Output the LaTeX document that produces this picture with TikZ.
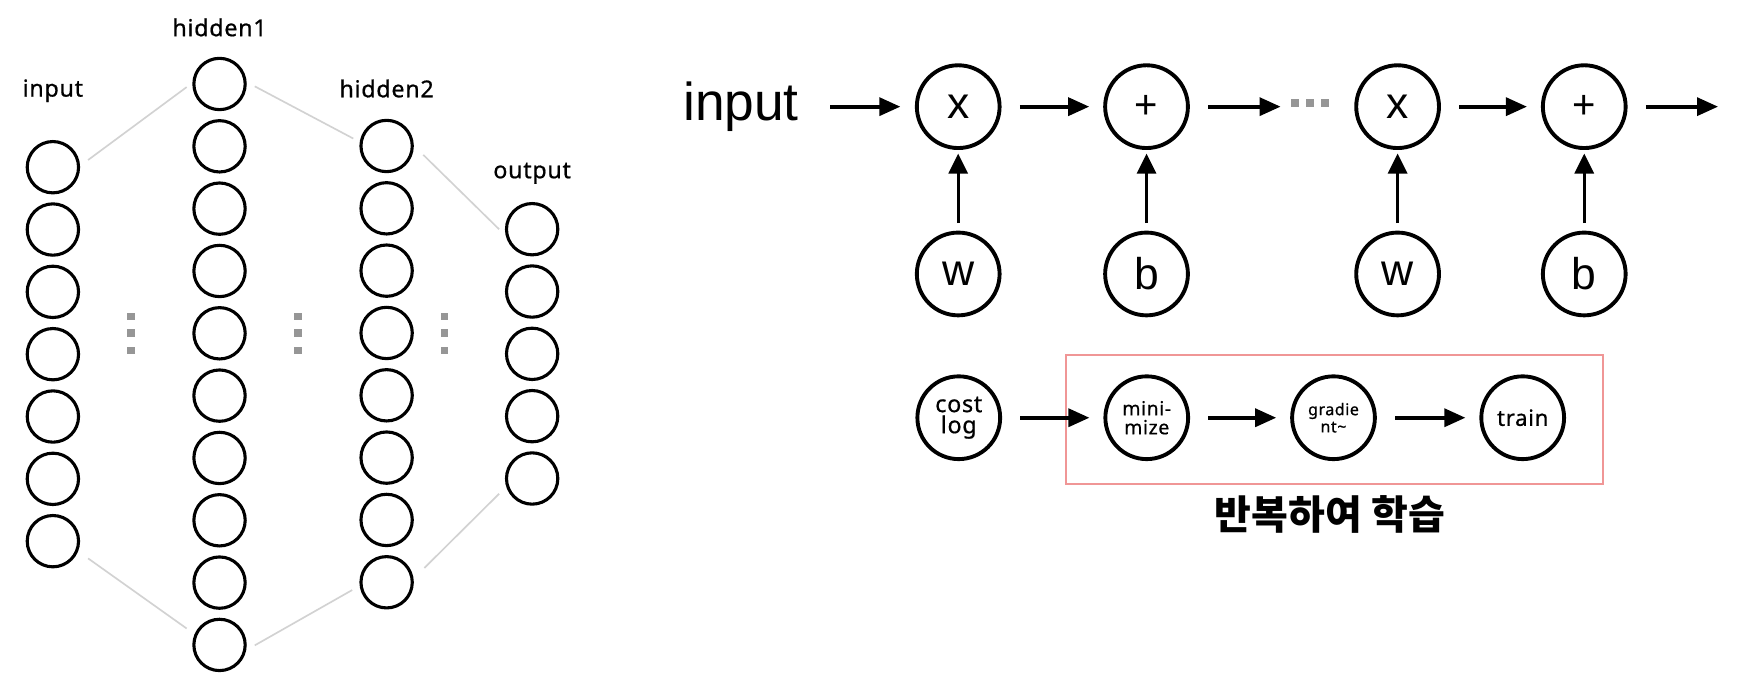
\documentclass[tikz,border=0pt]{standalone}
\usepackage{fontspec}
\setmainfont{Noto Sans}[LetterSpace=3,FakeBold=0.7]
\newfontfamily\arialf{Liberation Sans}
\newfontfamily\krf{Noto Sans CJK KR}
\usetikzlibrary{arrows.meta,calc}
\definecolor{linkgray}{RGB}{210,210,210}
\definecolor{dotgray}{RGB}{150,150,150}
\definecolor{boxpink}{RGB}{240,150,150}
\begin{document}
\begin{tikzpicture}[x=1pt,y=-1pt,
  neuron/.style={circle,draw,line width=2.8pt,minimum size=46.2pt,inner sep=0pt},
  opnode/.style={circle,draw,line width=3.5pt,minimum size=74.5pt,inner sep=0pt,align=center},
  layerlabel/.style={font=\fontsize{21}{25}\selectfont,inner sep=0pt},
  link/.style={draw=linkgray,line width=1.5pt},
  vdot/.style={rectangle,fill=dotgray,minimum size=7pt,inner sep=0pt},
  hdot/.style={rectangle,fill=dotgray,minimum width=7.5pt,minimum height=7pt,inner sep=0pt},
  flow/.style={-{Triangle[length=19pt,width=16pt]},line width=3.6pt,shorten <=16.5pt,shorten >=12.5pt},
  upflow/.style={-{Triangle[length=18pt,width=17pt]},line width=3pt,shorten <=6.8pt,shorten >=3.2pt},
  opfont/.style={font=\arialf\fontsize{40}{48}\selectfont},
  plusfont/.style={font=\arialf\fontsize{36}{40}\selectfont},
]
\useasboundingbox (0,0) rectangle (1568,624.7);

% ---------- left network ----------
\foreach \k in {1,...,7}
  \node[neuron] (i\k) at (47.6,{150.5+56.1*(\k-1)}) {};
\foreach \k in {1,...,10}
  \node[neuron] (ha\k) at (197.6,{75.6+56.1*(\k-1)}) {};
\foreach \k in {1,...,8}
  \node[neuron] (hb\k) at (348,{131.4+56.1*(\k-1)}) {};
\foreach \k in {1,...,5}
  \node[neuron] (o\k) at (479,{206.3+56.1*(\k-1)}) {};

\node[layerlabel] (linput) at (47.6,81.7) {input};
\node[layerlabel] (lh1) at (197.6,24.7) {hidden1};
\node[layerlabel] (lh2) at (348,79.7) {hidden2};
\node[layerlabel] (lout) at (479,156) {output};

\draw[link] ($(i1)+(31.7,-6.5)$) -- ($(ha1)+(-29.6,2.8)$);
\draw[link] ($(ha1)+(31.7,2.1)$) -- ($(hb1)+(-30,-6.7)$);
\draw[link] ($(hb1)+(33,8)$) -- ($(o1)+(-29.7,0.1)$);
\draw[link] ($(i7)+(31.7,15.5)$) -- ($(ha10)+(-29.6,-14.8)$);
\draw[link] ($(ha10)+(31.7,0.4)$) -- ($(hb8)+(-31,7)$);
\draw[link] ($(hb8)+(34,-12.9)$) -- ($(o5)+(-29.7,13.7)$);

\foreach \xx/\nm in {117.9/a,268.3/b,400/c}{
  \node[vdot] (vd\nm1) at (\xx,284.9) {};
  \node[vdot] (vd\nm2) at (\xx,299.6) {};
  \node[vdot] (vd\nm3) at (\xx,315.5) {};
}

% ---------- right: forward graph ----------
\node[font=\arialf\fontsize{48}{58}\selectfont,inner sep=0pt] (inR) at (667,96) {input};
\node[opnode,opfont] (x1) at (862.5,96) {x};
\node[opnode,plusfont] (p1) at (1032,96) {+};
\node[opnode,opfont] (x2) at (1258,96) {x};
\node[opnode,plusfont] (p2) at (1426,96) {+};
\node[opnode,opfont] (w1) at (862.5,246.6) {w};
\node[opnode,opfont] (b1) at (1032,246.6) {b};
\node[opnode,opfont] (w2) at (1258,246.6) {w};
\node[opnode,opfont] (b2) at (1426,246.6) {b};

\node[hdot] (dt1) at (1165.7,92.4) {};
\node[hdot] (dt2) at (1179.3,92.4) {};
\node[hdot] (dt3) at (1192.8,92.4) {};
\coordinate (outR) at (1546.5,96);

\draw[flow,shorten <=28pt,shorten >=13pt] (inR.east |- x1.west) -- (x1.west);
\draw[flow] (x1.east) -- (p1.west);
\draw[flow,shorten >=9pt] (p1.east) -- (p1.east -| dt1.west);
\draw[flow] (x2.east) -- (p2.west);
\draw[flow,shorten >=0pt] (p2.east) -- (outR);

\draw[upflow] (w1.north) -- (x1.south);
\draw[upflow] (b1.north) -- (p1.south);
\draw[upflow] (w2.north) -- (x2.south);
\draw[upflow] (b2.north) -- (p2.south);

% ---------- right: training ----------
\node[draw=boxpink,line width=1.5pt,minimum width=483.7pt,minimum height=116.2pt,inner sep=0pt] (loop) at (1201.15,377.6) {};
\node[opnode,font=\fontsize{21}{19}\selectfont] (cost) at (863,376) {cost\\log};
\node[opnode,font=\fontsize{17.5}{17}\selectfont] (mini) at (1032.2,376) {mini-\\mize};
\node[opnode,font=\fontsize{14.5}{15.5}\selectfont] (grad) at (1200.3,376) {gradie\\nt\textasciitilde};
\node[opnode,font=\fontsize{20}{22}\selectfont] (train) at (1370.6,376) {train};

\draw[flow] (cost.east) -- (mini.west);
\draw[flow] (mini.east) -- (grad.west);
\draw[flow] (grad.east) -- (train.west);

\node[font=\krf\bfseries\fontsize{36}{42}\selectfont,inner sep=0pt] (rep) at (1197,463) {반복하여 학습};
\end{tikzpicture}
\end{document}
